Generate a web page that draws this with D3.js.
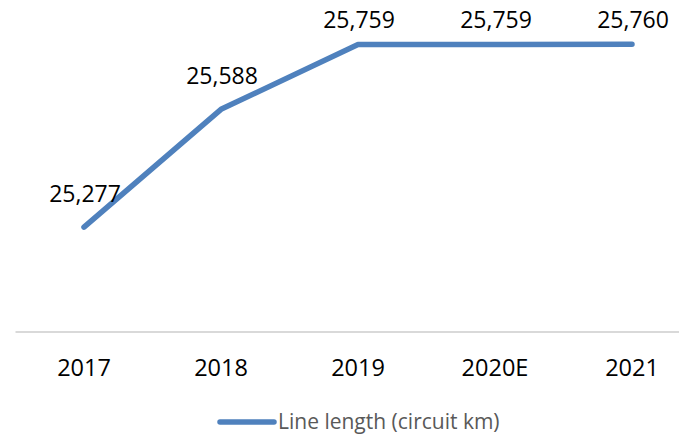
<!DOCTYPE html>
<html>
<head>
<meta charset="utf-8">
<script src="https://d3js.org/d3.v7.min.js"></script>
<style>
  body { margin: 0; background: #fff; }
  svg { display: block; font-family: "Open Sans", sans-serif; }
</style>
</head>
<body>
<svg></svg>
<script>
  // data
  const years = ['2017', '2018', '2019', '2020E', '2021'];
  const lineLength = [25277, 25588, 25759, 25759, 25760];
  const seriesName = 'Line length (circuit km)';

  const width = 679;
  const height = 436;
  const color = '#4F81BD';

  const svg = d3.select('svg').attr('width', width).attr('height', height);

  // plot area runs a bit past the right edge, as in the original
  const x = d3.scalePoint().domain(years).range([84, 632]);
  const y = d3.scaleLinear().domain([25000, 25800]).range([332, 29]);

  // category axis line
  svg.append('line')
    .attr('x1', x(years[0]) - x.step() / 2)
    .attr('x2', x(years[years.length - 1]) + x.step() / 2)
    .attr('y1', y(25000)).attr('y2', y(25000))
    .attr('stroke', '#d9d9d9')
    .attr('stroke-width', 2);

  // tick labels
  svg.append('g').selectAll('text')
    .data(years)
    .enter().append('text')
    .attr('x', d => x(d))
    .attr('y', 376)
    .attr('text-anchor', 'middle')
    .attr('font-size', 23.5)
    .attr('fill', '#000')
    .text(d => d);

  const pts = years.map((d, i) => ({ year: d, value: lineLength[i] }));

  const line = d3.line()
    .x(d => x(d.year))
    .y(d => y(d.value));

  svg.append('path')
    .datum(pts)
    .attr('d', line)
    .attr('fill', 'none')
    .attr('stroke', color)
    .attr('stroke-width', 5.5)
    .attr('stroke-linecap', 'round')
    .attr('stroke-linejoin', 'round');

  // data labels above the points, kept inside the top of the chart
  const fmt = d3.format(',');
  svg.append('g').selectAll('text')
    .data(pts)
    .enter().append('text')
    .attr('x', d => x(d.year) + 1)
    .attr('y', d => Math.max(y(d.value) - 25, 28))
    .attr('text-anchor', 'middle')
    .attr('font-size', 23)
    .attr('fill', '#000')
    .text(d => fmt(d.value));

  // legend
  const legend = svg.append('g').attr('transform', 'translate(219,422)');
  legend.append('line')
    .attr('x1', 1).attr('x2', 55)
    .attr('stroke', color)
    .attr('stroke-width', 5.5)
    .attr('stroke-linecap', 'round');
  legend.append('text')
    .attr('x', 59)
    .attr('y', 7)
    .attr('font-size', 21)
    .attr('fill', '#595959')
    .text(seriesName);
</script>
</body>
</html>
